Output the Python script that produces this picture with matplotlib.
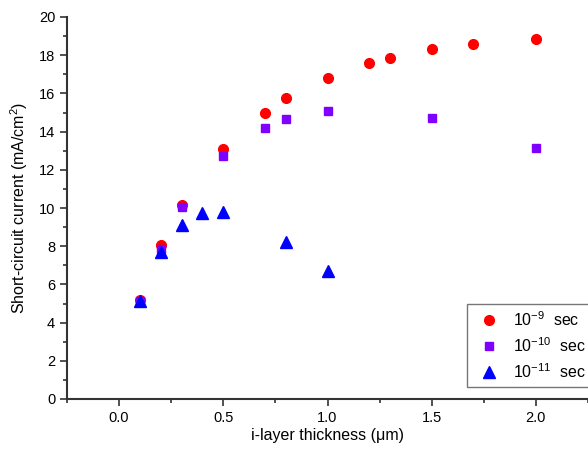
import matplotlib
matplotlib.use("Agg")
import matplotlib.pyplot as plt
from matplotlib.ticker import MultipleLocator

plt.rcParams['font.family'] = ['Liberation Sans', 'DejaVu Sans']
plt.rcParams['mathtext.fontset'] = 'custom'
plt.rcParams['mathtext.rm'] = 'Liberation Sans'
plt.rcParams['mathtext.it'] = 'Liberation Sans:italic'
plt.rcParams['mathtext.bf'] = 'Liberation Sans:bold'

x9 = [0.1, 0.2, 0.3, 0.5, 0.7, 0.8, 1.0, 1.2, 1.3, 1.5, 1.7, 2.0]
y9 = [5.2, 8.05, 10.15, 13.1, 15.0, 15.75, 16.8, 17.6, 17.85, 18.3, 18.6, 18.85]
x10 = [0.1, 0.2, 0.3, 0.5, 0.7, 0.8, 1.0, 1.5, 2.0]
y10 = [5.15, 7.85, 10.05, 12.7, 14.2, 14.65, 15.1, 14.7, 13.15]
x11 = [0.1, 0.2, 0.3, 0.4, 0.5, 0.8, 1.0]
y11 = [5.15, 7.7, 9.1, 9.75, 9.8, 8.2, 6.7]
labels = ['10$^{\\mathrm{-9}}$  sec', '10$^{\\mathrm{-10}}$  sec', '10$^{\\mathrm{-11}}$  sec']

fig = plt.figure(figsize=(5.88, 4.55), dpi=100)
ax = fig.add_axes([67/588, 1-399/455, 1-67/588, (399-17)/455])

ax.plot(x9, y9, 'o', color='#ff0000', ms=7, label=labels[0], zorder=3)
ax.plot(x10, y10, 's', color='#8000ff', ms=6, label=labels[1], zorder=4)
ax.plot(x11, y11, '^', color='#0000ff', ms=8, label=labels[2], zorder=5)

ax.set_xlim(-0.25, 2.25)
ax.set_ylim(0, 20)
ax.xaxis.set_major_locator(MultipleLocator(0.5))
ax.xaxis.set_minor_locator(MultipleLocator(0.25))
ax.yaxis.set_major_locator(MultipleLocator(2))
ax.yaxis.set_minor_locator(MultipleLocator(1))
ax.tick_params(which='major', length=5, width=1.2, labelsize=10.5, color='#333333')
ax.tick_params(which='minor', length=3, width=1.2, color='#333333')
ax.spines['top'].set_visible(False)
ax.spines['right'].set_visible(False)
for s in ['left', 'bottom']:
    ax.spines[s].set_linewidth(1.5)
    ax.spines[s].set_color('#333333')

ax.set_xlabel('i-layer thickness (\u03bcm)', fontsize=11.5, labelpad=2)
ax.set_ylabel('Short-circuit current (mA/cm$^2$)', fontsize=11.5, labelpad=6)

leg = ax.legend(loc='lower left', bbox_to_anchor=(467/588, 1-387/455), bbox_transform=fig.transFigure,
                fontsize=11.5, frameon=True, fancybox=False, edgecolor='#555555',
                handlelength=2.0, handletextpad=0.5, borderpad=0.4, labelspacing=0.45, borderaxespad=0)
leg.get_frame().set_linewidth(1.0)

fig.savefig('out.png', dpi=100)
